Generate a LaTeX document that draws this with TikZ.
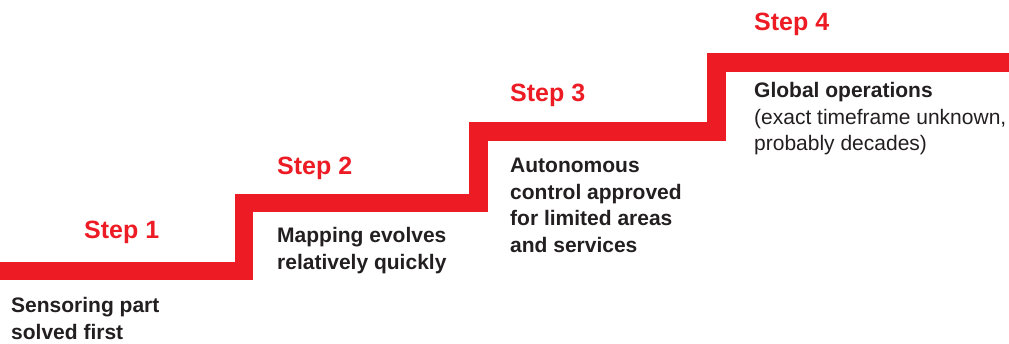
\documentclass[tikz,border=0pt]{standalone}
\usepackage{fontspec}
\setmainfont{Liberation Sans}
\definecolor{stepred}{HTML}{ED1C24}
\definecolor{txtdark}{HTML}{231F20}
\begin{document}
\begin{tikzpicture}[x=1pt,y=1pt,
  stair/.style={draw=stepred,line width=18.5pt,line cap=butt,line join=miter},
  steplabel/.style={anchor=base west,inner sep=0pt,text=stepred,font=\fontsize{25}{30}\selectfont\bfseries},
  bodytext/.style={anchor=base west,inner sep=0pt,text=txtdark,align=left,font=\fontsize{21}{26.4}\selectfont}
]
\useasboundingbox (0,0) rectangle (1009,344);
% stair corner coordinates (y = 344 - pixel row)
\coordinate (s0) at (0,73);
\coordinate (s1) at (244,73);
\coordinate (s2) at (244,141);
\coordinate (s3) at (478.5,141);
\coordinate (s4) at (478.5,212.5);
\coordinate (s5) at (716.5,212.5);
\coordinate (s6) at (716.5,281.5);
\coordinate (s7) at (1009,281.5);
\draw[stair] (s0) -- (s1) -- (s2) -- (s3) -- (s4) -- (s5) -- (s6) -- (s7);

\node[steplabel] (st1) at (84,105) {Step 1};
\node[steplabel] (st2) at (277,169) {Step 2};
\node[steplabel] (st3) at (510,242) {Step 3};
\node[steplabel] (st4) at (754,313) {Step 4};

% base anchor of a multi-line node = baseline of its last line
\node[bodytext] (t1) at (11,4.6) {\bfseries Sensoring part\\\bfseries solved first};
\node[bodytext] (t2) at (277,74.6) {\bfseries Mapping evolves\\\bfseries relatively quickly};
\node[bodytext] (t3) at (510,91.8) {\bfseries Autonomous\\\bfseries control approved\\\bfseries for limited areas\\\bfseries and services};
\node[bodytext] (t4) at (754,193.2) {\bfseries Global operations\\(exact timeframe unknown,\\probably decades)};
\end{tikzpicture}
\end{document}
